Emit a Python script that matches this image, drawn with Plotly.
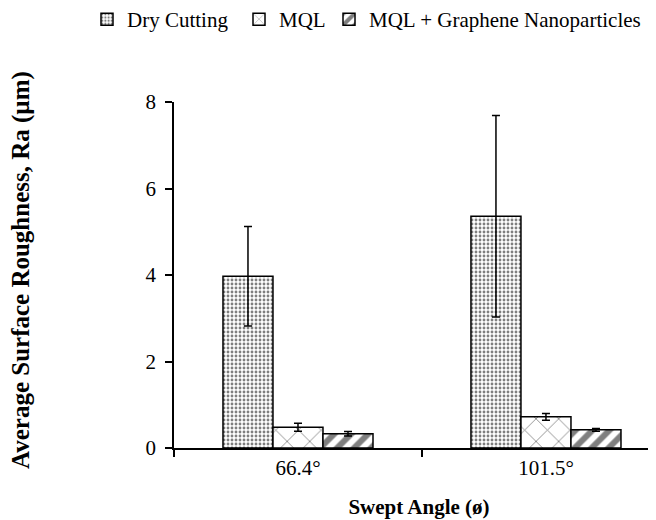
import plotly.graph_objects as go

categories = ["66.4°", "101.5°"]
series_names = ["Dry Cutting", "MQL", "MQL + Graphene Nanoparticles"]
dry = [3.97, 5.36]
dry_err = [1.15, 2.33]
mql = [0.48, 0.72]
mql_err = [0.09, 0.08]
gra = [0.33, 0.42]
gra_err = [0.05, 0.03]
y_ticks = [0, 2, 4, 6, 8]

FONT = "Liberation Serif"
W, H = 656, 520
ML, MT, MB = 166, 94, 80
PH = H - MT - MB
PW = W - ML

patterns = [
    dict(shape=".", fgcolor="black", bgcolor="white", size=4, solidity=0.4, fillmode="overlay"),
    dict(shape="x", fgcolor="black", bgcolor="white", size=16, solidity=0.1, fillmode="overlay"),
    dict(shape="/", fgcolor="black", bgcolor="white", size=12, solidity=0.5, fillmode="overlay"),
]
legend_ids = ["legend", "legend2", "legend3"]
legend_text_x = [128, 280, 370]

fig = go.Figure()
for name, vals, errs, pat, lid in zip(series_names, [dry, mql, gra], [dry_err, mql_err, gra_err], patterns, legend_ids):
    fig.add_trace(go.Bar(
        x=categories, y=vals, name=name, legend=lid,
        marker=dict(color="white", line=dict(color="black", width=1.5), pattern=pat),
        error_y=dict(type="data", array=errs, visible=True, color="black", thickness=1.5, width=4),
    ))

legend_layout = {}
for lid, tx in zip(legend_ids, legend_text_x):
    legend_layout[lid] = dict(
        orientation="h", x=(tx - 49) / W, xref="container", xanchor="left",
        y=1 + (MT + 9) / PH, yref="paper", yanchor="top",
        font=dict(size=21), itemwidth=30, bgcolor="rgba(0,0,0,0)",
    )

fig.update_layout(
    width=W, height=H,
    barmode="group", bargap=0.395, bargroupgap=0,
    plot_bgcolor="white", paper_bgcolor="white",
    margin=dict(l=ML, r=0, t=MT, b=MB, autoexpand=False),
    font=dict(family=FONT, size=21, color="black"),
    showlegend=True,
    **legend_layout,
)
fig.add_annotation(
    text="<b>Average Surface Roughness, Ra (µm)</b>", textangle=-90,
    xref="paper", yref="paper", x=(13 - ML) / PW, y=(440 - 262) / PH,
    xanchor="center", yanchor="middle", showarrow=False, font=dict(size=25),
)
fig.update_xaxes(
    range=[-0.5, 1.476], showline=True, linecolor="black", linewidth=1.5,
    ticks="outside", tickson="boundaries", ticklen=7, tickcolor="black", tickwidth=1.5,
    title=dict(text="<b>Swept Angle (ø)</b>", font=dict(size=21), standoff=20),
    tickfont=dict(size=21), showgrid=False,
)
fig.update_yaxes(
    range=[0, 8], tickvals=y_ticks, showline=True, linecolor="black", linewidth=1.5,
    ticks="outside", ticklen=7, tickcolor="black", tickwidth=1.5, ticklabelstandoff=5,
    tickfont=dict(size=21), showgrid=False, zeroline=False,
)
fig.write_html("out.html")
